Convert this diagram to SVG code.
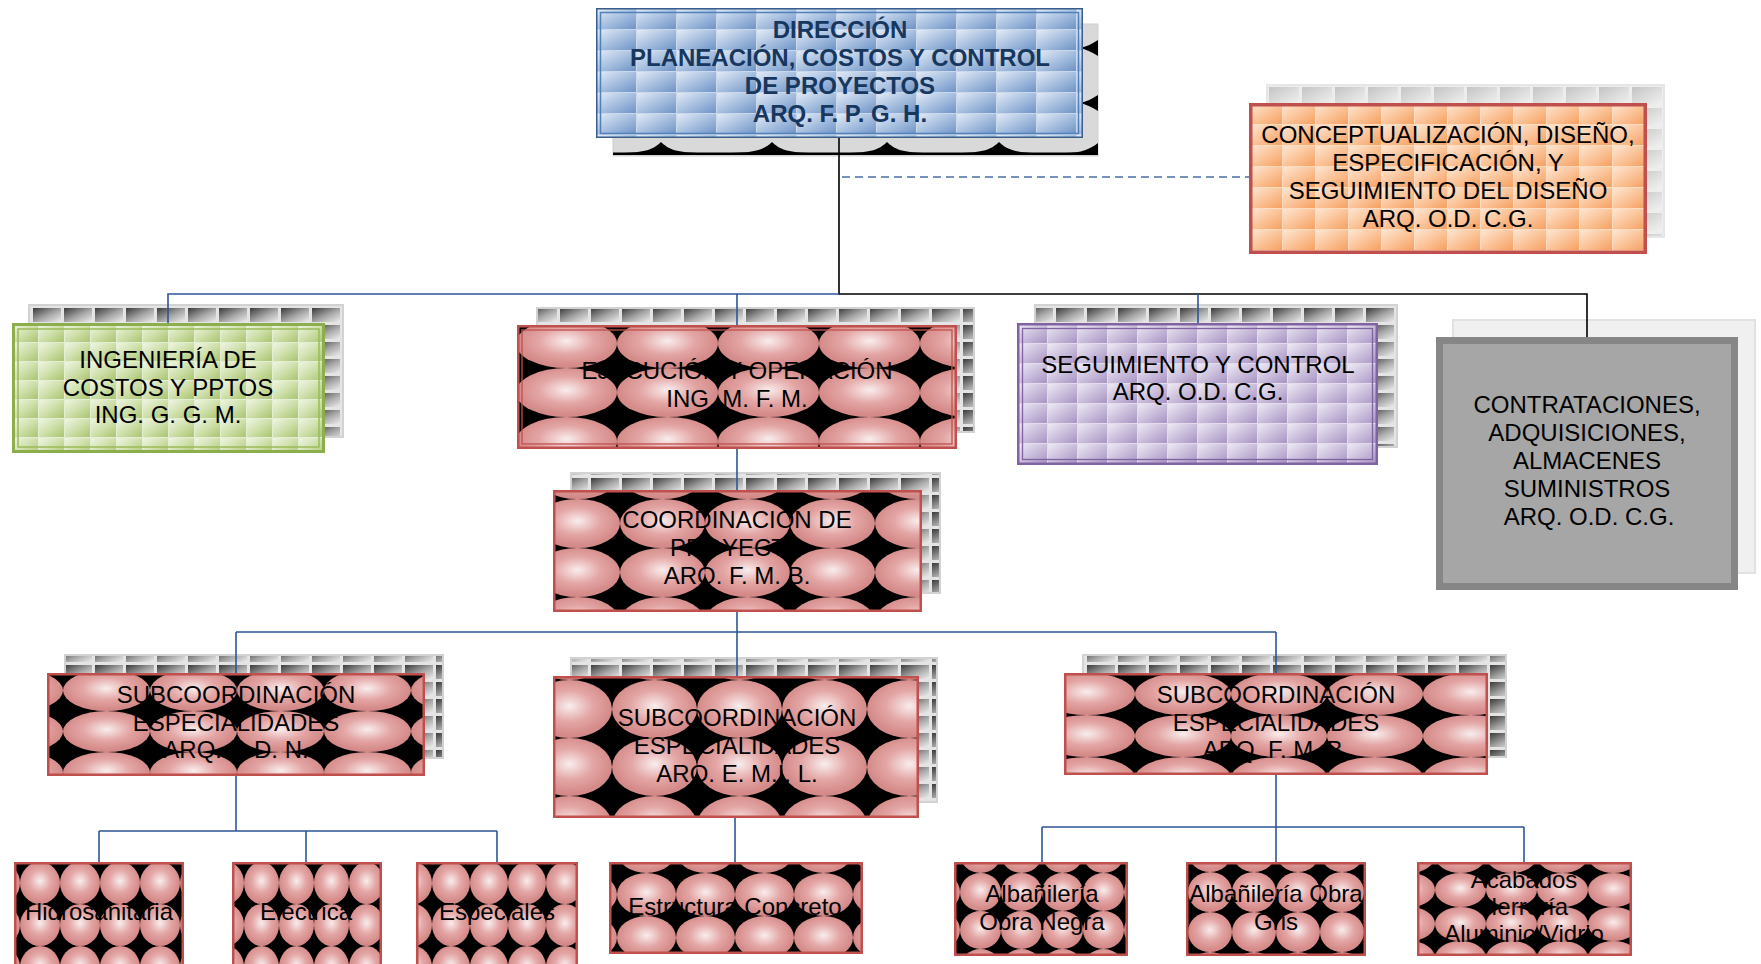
<svg xmlns="http://www.w3.org/2000/svg" width="1761" height="964" viewBox="0 0 1761 964">
<style>
.t{font-family:"Liberation Sans",Arial,sans-serif;font-size:24px;text-anchor:middle;fill:#000}
.tb{font-weight:bold;fill:#17375E}
.sh{stroke:#d2d2d2;stroke-width:2}
.pk{stroke:#C0504D;stroke-width:2.5}
.ln{fill:none;stroke:#2E5597;stroke-width:1.6}
.lk{fill:none;stroke:#000;stroke-width:1.6}
</style>
<defs>
<radialGradient id="pg" cx="0.5" cy="0.45" r="0.5"><stop offset="0" stop-color="#f9eded"/><stop offset="0.55" stop-color="#e3a6a5"/><stop offset="1" stop-color="#d48a88"/></radialGradient>
<linearGradient id="gb" x1="0" y1="0" x2="1" y2="1"><stop offset="0" stop-color="#e2eaf5"/><stop offset="0.5" stop-color="#a8c0e0"/><stop offset="1" stop-color="#6e93c6"/></linearGradient>
<linearGradient id="go" x1="0" y1="0" x2="1" y2="1"><stop offset="0" stop-color="#fde6d2"/><stop offset="0.5" stop-color="#fbc49a"/><stop offset="1" stop-color="#f6a060"/></linearGradient>
<linearGradient id="gg" x1="0" y1="0" x2="1" y2="1"><stop offset="0" stop-color="#eff5e3"/><stop offset="0.5" stop-color="#cfe0ab"/><stop offset="1" stop-color="#a9c46f"/></linearGradient>
<linearGradient id="gp" x1="0" y1="0" x2="1" y2="1"><stop offset="0" stop-color="#eeeaf4"/><stop offset="0.5" stop-color="#cbbfdc"/><stop offset="1" stop-color="#a893c4"/></linearGradient>
<linearGradient id="gd" x1="0" y1="0" x2="1" y2="1"><stop offset="0" stop-color="#3a3a3a"/><stop offset="0.55" stop-color="#a8a8a8"/><stop offset="1" stop-color="#ececec"/></linearGradient>
<linearGradient id="gl" x1="0" y1="0" x2="1" y2="1"><stop offset="0" stop-color="#c4c4c4"/><stop offset="1" stop-color="#f2f2f2"/></linearGradient>
<pattern id="tb" patternUnits="userSpaceOnUse" x="596" y="8" width="40" height="21"><rect width="40" height="21" fill="#c9d8ec"/><rect x="1" y="1" width="39" height="20" fill="url(#gb)"/></pattern>
<pattern id="to" patternUnits="userSpaceOnUse" x="1249" y="103" width="33" height="21"><rect width="33" height="21" fill="#fddcc2"/><rect x="1" y="1" width="32" height="20" fill="url(#go)"/></pattern>
<pattern id="tg" patternUnits="userSpaceOnUse" x="12" y="323" width="26" height="19"><rect width="26" height="19" fill="#e4eed3"/><rect x="1" y="1" width="25" height="18" fill="url(#gg)"/></pattern>
<pattern id="tp" patternUnits="userSpaceOnUse" x="1017" y="323" width="30" height="20"><rect width="30" height="20" fill="#e2dcec"/><rect x="1" y="1" width="29" height="19" fill="url(#gp)"/></pattern>
<pattern id="td" patternUnits="userSpaceOnUse" x="0" y="0" width="31" height="17"><rect width="31" height="17" fill="#e4e4e4"/><rect x="2" y="2" width="28" height="14" fill="url(#gd)"/></pattern>
<pattern id="tl" patternUnits="userSpaceOnUse" x="1267" y="85" width="33" height="21"><rect width="33" height="21" fill="#ededed"/><rect x="2" y="2" width="30" height="18" fill="url(#gl)"/></pattern>
<pattern id="pE" patternUnits="userSpaceOnUse" x="516" y="319" width="101" height="49"><rect width="101" height="49" fill="#000"/><ellipse cx="50.5" cy="24.5" rx="50.5" ry="24.5" fill="url(#pg)"/></pattern>
<pattern id="pC" patternUnits="userSpaceOnUse" x="535" y="499" width="85" height="49"><rect width="85" height="49" fill="#000"/><ellipse cx="42.5" cy="24.5" rx="42.5" ry="24.5" fill="url(#pg)"/></pattern>
<pattern id="pS1" patternUnits="userSpaceOnUse" x="63" y="670" width="87" height="41"><rect width="87" height="41" fill="#000"/><ellipse cx="43.5" cy="20.5" rx="43.5" ry="20.5" fill="url(#pg)"/></pattern>
<pattern id="pS2" patternUnits="userSpaceOnUse" x="612" y="680" width="85" height="58"><rect width="85" height="58" fill="#000"/><ellipse cx="42.5" cy="29" rx="42.5" ry="29" fill="url(#pg)"/></pattern>
<pattern id="pS3" patternUnits="userSpaceOnUse" x="1135" y="673" width="96" height="42"><rect width="96" height="42" fill="#000"/><ellipse cx="48" cy="21" rx="48" ry="21" fill="url(#pg)"/></pattern>
<pattern id="pH" patternUnits="userSpaceOnUse" x="20" y="862" width="40" height="42"><rect width="40" height="42" fill="#000"/><ellipse cx="20" cy="21" rx="20" ry="21" fill="url(#pg)"/></pattern>
<pattern id="pEl" patternUnits="userSpaceOnUse" x="244" y="862" width="35" height="42"><rect width="35" height="42" fill="#000"/><ellipse cx="17.5" cy="21" rx="17.5" ry="21" fill="url(#pg)"/></pattern>
<pattern id="pEs" patternUnits="userSpaceOnUse" x="432" y="862" width="38" height="42"><rect width="38" height="42" fill="#000"/><ellipse cx="19" cy="21" rx="19" ry="21" fill="url(#pg)"/></pattern>
<pattern id="pEC" patternUnits="userSpaceOnUse" x="617" y="873" width="59" height="43"><rect width="59" height="43" fill="#000"/><ellipse cx="29.5" cy="21.5" rx="29.5" ry="21.5" fill="url(#pg)"/></pattern>
<pattern id="pA1" patternUnits="userSpaceOnUse" x="960" y="873" width="41" height="38"><rect width="41" height="38" fill="#000"/><ellipse cx="20.5" cy="19" rx="20.5" ry="19" fill="url(#pg)"/></pattern>
<pattern id="pA2" patternUnits="userSpaceOnUse" x="1188" y="872" width="44" height="40"><rect width="44" height="40" fill="#000"/><ellipse cx="22" cy="20" rx="22" ry="20" fill="url(#pg)"/></pattern>
<pattern id="pAc" patternUnits="userSpaceOnUse" x="1435" y="873" width="51" height="34"><rect width="51" height="34" fill="#000"/><ellipse cx="25.5" cy="17" rx="25.5" ry="17" fill="url(#pg)"/></pattern>
</defs>
<rect width="1761" height="964" fill="#fff"/>

<g id="n-direccion">
<rect x="613" y="24" width="485" height="132" fill="#d9d9d9" stroke="#cfcfcf"/>
<rect x="613" y="152.5" width="485" height="2.5" fill="#000"/>
<path d="M620,153 C645,153 654,149 661,142 C668,149 677,153 702,153 Z M731,153 C756,153 765,149 772,142 C779,149 788,153 813,153 Z M846,153 C871,153 880,149 887,142 C894,149 903,153 928,153 Z M958,153 C983,153 992,149 999,142 C1006,149 1015,153 1040,153 Z M1065,153 C1082,153 1090,149 1098,143 L1098,153 Z" fill="#000"/>
<path d="M1098,40 L1098,56 C1092,52 1086,49 1078,48 C1086,47 1092,44 1098,40 Z M1098,95 L1098,111 C1092,107 1086,104 1078,103 C1086,102 1092,99 1098,95 Z" fill="#000"/>
<rect x="596.75" y="8.75" width="485.5" height="128.5" fill="url(#tb)" stroke="#385D8A" stroke-width="1.5"/>
<rect x="600.5" y="12.5" width="478" height="121" fill="none" stroke="#4F81BD" stroke-width="1.5"/>
<text class="t tb" x="840" y="38">DIRECCIÓN</text>
<text class="t tb" x="840" y="66">PLANEACIÓN, COSTOS Y CONTROL</text>
<text class="t tb" x="840" y="94">DE PROYECTOS</text>
<text class="t tb" x="840" y="122">ARQ. F. P. G. H.</text>
</g>

<g id="n-conceptualizacion">
<rect x="1267" y="85" width="397" height="152" fill="url(#tl)" stroke="#e6e6e6" stroke-width="2"/>
<rect x="1250.75" y="104.75" width="394.5" height="147.5" fill="url(#to)" stroke="#C0504D" stroke-width="3.5"/>
<text class="t" x="1448" y="143">CONCEPTUALIZACIÓN, DISEÑO,</text>
<text class="t" x="1448" y="171">ESPECIFICACIÓN, Y</text>
<text class="t" x="1448" y="199">SEGUIMIENTO DEL DISEÑO</text>
<text class="t" x="1448" y="227">ARQ. O.D. C.G.</text>
</g>

<g id="n-ingenieria">
<rect x="29" y="305" width="314" height="132" fill="url(#td)" class="sh"/>
<rect x="13.5" y="324.5" width="310" height="127" fill="url(#tg)" stroke="#8CAE4C" stroke-width="3"/>
<rect x="18" y="329" width="301" height="118" fill="none" stroke="#9BBB59" stroke-width="1.5"/>
<text class="t" x="168" y="368">INGENIERÍA DE</text>
<text class="t" x="168" y="396">COSTOS Y PPTOS</text>
<text class="t" x="168" y="423">ING. G. G. M.</text>
</g>

<g id="n-ejecucion">
<rect x="537" y="308" width="437" height="124" fill="url(#td)" class="sh"/>
<rect x="518.25" y="326.25" width="437.5" height="121.5" fill="url(#pE)" class="pk"/>
<rect x="522" y="330" width="430" height="114" fill="none" stroke="#C0504D" stroke-width="1.3"/>
<text class="t" x="737" y="379">EJECUCIÓN Y OPERACIÓN</text>
<text class="t" x="737" y="407">ING. M. F. M.</text>
</g>

<g id="n-seguimiento">
<rect x="1035" y="305" width="362" height="142" fill="url(#td)" class="sh"/>
<rect x="1018.25" y="324.25" width="358.5" height="139.5" fill="url(#tp)" stroke="#8064A2" stroke-width="2.5"/>
<rect x="1022.5" y="328.5" width="350" height="131" fill="none" stroke="#8064A2" stroke-width="1.3"/>
<text class="t" x="1198" y="373">SEGUIMIENTO Y CONTROL</text>
<text class="t" x="1198" y="400">ARQ. O.D. C.G.</text>
</g>

<g id="n-contrataciones">
<rect x="1453" y="320" width="302" height="253" fill="#f0f0f0" stroke="#e2e2e2" stroke-width="2"/>
<rect x="1439.5" y="340.5" width="295" height="246" fill="#A6A6A6" stroke="#868686" stroke-width="7"/>
<text class="t" x="1587" y="413">CONTRATACIONES,</text>
<text class="t" x="1587" y="441">ADQUISICIONES,</text>
<text class="t" x="1587" y="469">ALMACENES</text>
<text class="t" x="1587" y="497">SUMINISTROS</text>
<text class="t" x="1589" y="525">ARQ. O.D. C.G.</text>
</g>

<g id="n-coordinacion">
<rect x="571" y="473" width="369" height="120" fill="url(#td)" class="sh"/>
<rect x="554.25" y="491.25" width="366.5" height="119.5" fill="url(#pC)" class="pk"/>
<text class="t" x="737" y="528">COORDINACION DE</text>
<text class="t" x="737" y="556">PROYECTO</text>
<text class="t" x="737" y="584">ARQ. F. M. B.</text>
</g>

<g id="n-subcoord-1">
<rect x="65" y="655" width="378" height="103" fill="url(#td)" class="sh"/>
<rect x="48.25" y="674.25" width="375.5" height="100.5" fill="url(#pS1)" class="pk"/>
<text class="t" x="236" y="703">SUBCOORDINACIÓN</text>
<text class="t" x="236" y="731">ESPECIALIDADES</text>
<text class="t" x="236" y="758">ARQ. J. D. N.</text>
</g>

<g id="n-subcoord-2">
<rect x="571" y="658" width="366" height="144" fill="url(#td)" class="sh"/>
<rect x="554.25" y="677.25" width="363.5" height="139.5" fill="url(#pS2)" class="pk"/>
<text class="t" x="737" y="726">SUBCOORDINACIÓN</text>
<text class="t" x="737" y="754">ESPECIALIDADES</text>
<text class="t" x="737" y="782">ARQ. E. M.I. L.</text>
</g>

<g id="n-subcoord-3">
<rect x="1083" y="655" width="423" height="102" fill="url(#td)" class="sh"/>
<rect x="1065.25" y="674.25" width="421.5" height="99.5" fill="url(#pS3)" class="pk"/>
<text class="t" x="1276" y="703">SUBCOORDINACIÓN</text>
<text class="t" x="1276" y="731">ESPECIALIDADES</text>
<text class="t" x="1276" y="758">ARQ. F. M. B.</text>
</g>

<g id="n-hidrosanitaria">
<rect x="15.25" y="863.25" width="167.5" height="120" fill="url(#pH)" class="pk"/>
<text class="t" x="99" y="920">Hidrosanitaria</text>
</g>
<g id="n-electrica">
<rect x="233.25" y="863.25" width="147.5" height="120" fill="url(#pEl)" class="pk"/>
<text class="t" x="306" y="920">Electrica</text>
</g>
<g id="n-especiales">
<rect x="417.25" y="863.25" width="159.5" height="120" fill="url(#pEs)" class="pk"/>
<text class="t" x="497" y="920">Especiales</text>
</g>
<g id="n-estructura">
<rect x="610.25" y="863.25" width="251.5" height="89.5" fill="url(#pEC)" class="pk"/>
<text class="t" x="735" y="915">Estructura Concreto</text>
</g>
<g id="n-obra-negra">
<rect x="955.25" y="863.25" width="171.5" height="91.5" fill="url(#pA1)" class="pk"/>
<text class="t" x="1042" y="902">Albañilería</text>
<text class="t" x="1042" y="930">Obra Negra</text>
</g>
<g id="n-obra-gris">
<rect x="1187.25" y="863.25" width="177.5" height="91.5" fill="url(#pA2)" class="pk"/>
<text class="t" x="1276" y="902">Albañilería Obra</text>
<text class="t" x="1276" y="930">Gris</text>
</g>
<g id="n-acabados">
<rect x="1418.25" y="863.25" width="212.5" height="91.5" fill="url(#pAc)" class="pk"/>
<text class="t" x="1524" y="888">Acabados</text>
<text class="t" x="1524" y="915">Herrería</text>
<text class="t" x="1524" y="942">Aluminio/Vidrio</text>
</g>

<g id="connectors">
<path class="lk" d="M839,138 V294 H1587 V337"/>
<path class="ln" d="M168,323 V294 H839 M737,294 V325 M1198,294 V323"/>
<path d="M842,177 H1249" fill="none" stroke="#4A6FA5" stroke-width="1.6" stroke-dasharray="8 5"/>
<path class="ln" stroke="#1F3864" d="M737,449 V490"/>
<path class="ln" d="M737,612 V632 M236,632 H1276 M236,632 V673 M737,632 V676 M1276,632 V673"/>
<path class="ln" d="M236,776 V831 M99,831 H497 M99,831 V862 M306,831 V862 M497,831 V862"/>
<path class="ln" d="M735,818 V862"/>
<path class="ln" d="M1276,775 V827 M1042,827 H1524 M1042,827 V862 M1276,827 V862 M1524,827 V862"/>
</g>
</svg>
